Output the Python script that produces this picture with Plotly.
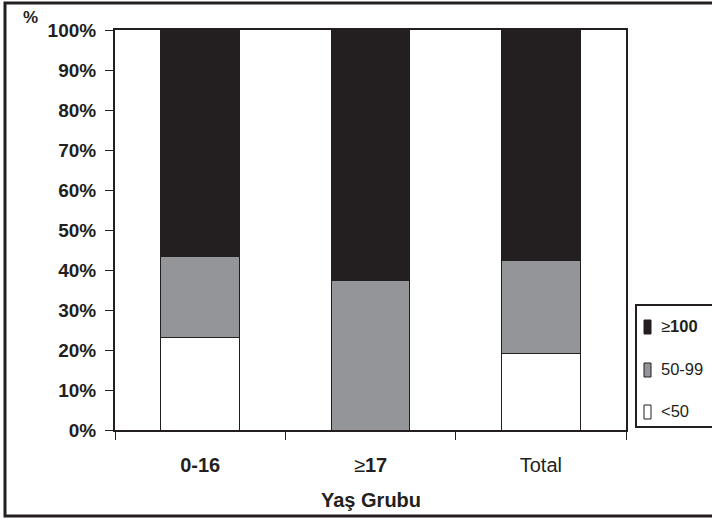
import plotly.graph_objects as go

categories = ["0-16", "≥17", "Total"]
tick_text = ["<b>0-16</b>", "≥<b>17</b>", "Total"]
lt50 = [23.2, 0.0, 19.1]
mid50_99 = [20.1, 37.4, 23.4]
ge100 = [56.7, 62.6, 57.5]

series = [
    ("&lt;50", lt50, "#ffffff"),
    ("50-99", mid50_99, "#939598"),
    ("≥<b>100</b>", ge100, "#231f20"),
]

ink = "#231f20"
font_family = "Liberation Sans, Arial, sans-serif"

# plot-area pixel frame (for placing decorations in paper coordinates)
PL, PR, PT, PB = 115, 626, 30, 430
W, H = 712, 520


def px(x):
    return (x - PL) / (PR - PL)


def py(y):
    return (PB - y) / (PB - PT)


fig = go.Figure()
for name, vals, col in series:
    fig.add_trace(go.Bar(
        x=categories, y=vals, name=name,
        marker=dict(color=col, line=dict(color=ink, width=1)),
        showlegend=False,
    ))

shapes = [
    # outer frame
    dict(type="rect", xref="paper", yref="paper",
         x0=px(5), x1=px(716), y0=py(516), y1=py(3),
         line=dict(color=ink, width=3), fillcolor="rgba(0,0,0,0)", layer="below"),
    # legend box
    dict(type="rect", xref="paper", yref="paper",
         x0=px(636), x1=px(730), y0=py(427), y1=py(305),
         line=dict(color=ink, width=2), fillcolor="white", layer="above"),
]
annotations = [
    dict(text="%", xref="paper", yref="paper", x=px(30), y=py(17),
         xanchor="center", yanchor="middle", showarrow=False,
         font=dict(size=17, color=ink, weight="bold")),
    dict(text="<b>Yaş Grubu</b>", xref="paper", yref="paper", x=0.5, y=py(500),
         xanchor="center", yanchor="middle", showarrow=False,
         font=dict(size=20, color=ink)),
]

# custom legend (top to bottom: >=100, 50-99, <50)
legend_centers = [327, 370, 412]
for (name, _vals, col), cy in zip(reversed(series), legend_centers):
    shapes.append(dict(type="rect", xref="paper", yref="paper",
                       x0=px(644), x1=px(651), y0=py(cy + 7), y1=py(cy - 7),
                       line=dict(color=ink, width=1), fillcolor=col, layer="above"))
    annotations.append(dict(text=name, xref="paper", yref="paper", x=px(659), y=py(cy - 1),
                            xanchor="left", yanchor="middle", showarrow=False,
                            font=dict(size=16.5, color=ink)))

fig.update_layout(
    width=W, height=H,
    margin=dict(l=PL, r=W - PR, t=PT, b=H - PB, autoexpand=False),
    paper_bgcolor="white", plot_bgcolor="white",
    barmode="stack", bargap=0.54,
    font=dict(family=font_family, size=16, color=ink),
    showlegend=False,
    xaxis=dict(
        type="category", categoryorder="array", categoryarray=categories,
        tickmode="array", tickvals=categories, ticktext=tick_text,
        tickson="boundaries", ticks="outside", ticklen=8, tickwidth=1, tickcolor=ink,
        showline=True, linecolor=ink, linewidth=2, mirror=True,
        showgrid=False, ticklabelstandoff=16,
        tickfont=dict(size=20, color=ink),
    ),
    yaxis=dict(
        range=[0, 100], dtick=10, ticksuffix="%",
        ticks="outside", ticklen=8, tickwidth=1, tickcolor=ink,
        showline=True, linecolor=ink, linewidth=2, mirror=True,
        showgrid=False, zeroline=False, ticklabelstandoff=5,
        tickfont=dict(size=19, color=ink, weight="bold"),
    ),
    annotations=annotations,
    shapes=shapes,
)

fig.write_html("out.html", config={"displayModeBar": False},
               post_script="document.body.style.margin='0';")
